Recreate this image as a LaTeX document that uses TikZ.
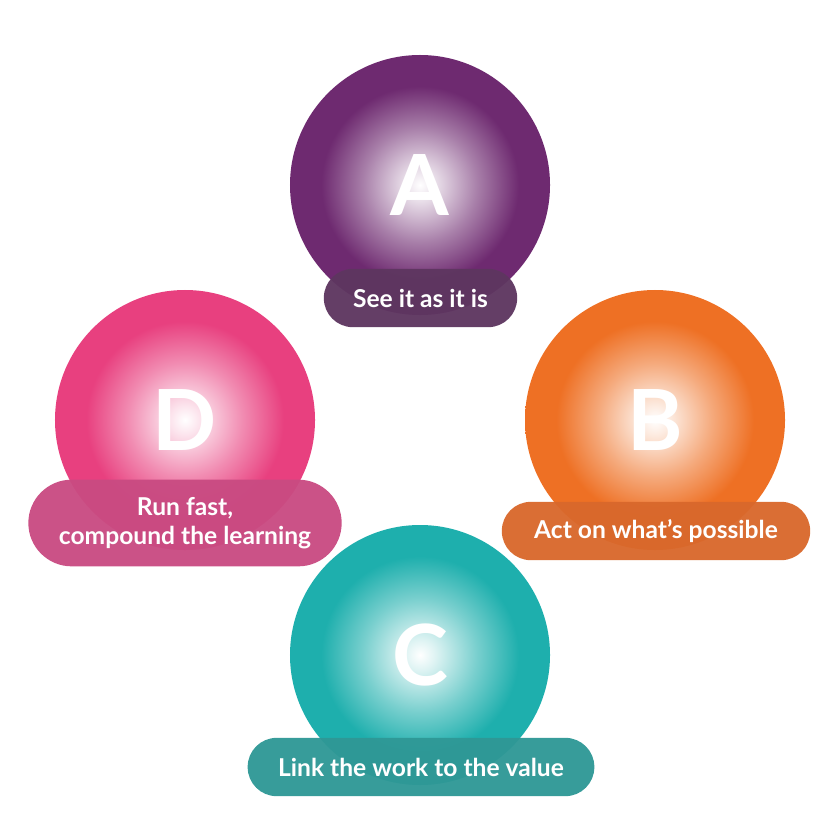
\documentclass[tikz,border=0pt]{standalone}
\usepackage{fontspec}
\setmainfont{Lato}
\definecolor{cA}{HTML}{6E2A70}
\definecolor{cB}{HTML}{EE7024}
\definecolor{cC}{HTML}{1EAFAD}
\definecolor{cD}{HTML}{E8407F}
\definecolor{pA}{HTML}{5E3660}
\definecolor{pB}{HTML}{D9682C}
\definecolor{pC}{HTML}{2F9896}
\definecolor{pD}{HTML}{C94B82}
\pgfdeclareradialshading{shA}{\pgfpoint{0bp}{0bp}}{color(0bp)=(white);color(3bp)=(white!85!cA);color(11bp)=(cA!60!white);color(19bp)=(cA);color(50bp)=(cA)}
\pgfdeclareradialshading{shB}{\pgfpoint{0bp}{0bp}}{color(0bp)=(white);color(3bp)=(white!85!cB);color(11bp)=(cB!60!white);color(19bp)=(cB);color(50bp)=(cB)}
\pgfdeclareradialshading{shC}{\pgfpoint{0bp}{0bp}}{color(0bp)=(white);color(3bp)=(white!85!cC);color(11bp)=(cC!60!white);color(19bp)=(cC);color(50bp)=(cC)}
\pgfdeclareradialshading{shD}{\pgfpoint{0bp}{0bp}}{color(0bp)=(white);color(3bp)=(white!85!cD);color(11bp)=(cD!60!white);color(19bp)=(cD);color(50bp)=(cD)}
\begin{document}
\begin{tikzpicture}[x=0.03cm,y=-0.03cm,
  ball/.style={circle,minimum size=7.8cm,inner sep=0pt,font=\fontsize{72}{72}\selectfont\bfseries,text=white},
  pill/.style={rounded corners=0.87cm,minimum height=1.75cm,inner sep=0pt,text=white,font=\fontsize{21}{25}\selectfont\bfseries,align=center,opacity=0.96,text opacity=1}]
\useasboundingbox (0,0) rectangle (840,840);
\node[ball,shading=shA] (A) at (420,185) {A};
\node[ball,shading=shB] (B) at (655,420) {B};
\node[ball,shading=shD] (D) at (185,420) {D};
\node[pill,fill=pA,minimum width=5.8cm] (la) at (420.5,298) {See it as it is};
\node[pill,fill=pB,minimum width=9.25cm] (lb) at (656,531) {Act on what's possible};
\node[pill,fill=pD,minimum width=9.4cm,minimum height=2.6cm,rounded corners=1.3cm] (ld) at (185,523) {Run fast,\\compound the learning};
\node[ball,shading=shC] (C) at (420,655) {C};
\node[pill,fill=pC,minimum width=10.4cm] (lc) at (421,767) {Link the work to the value};
\end{tikzpicture}
\end{document}
